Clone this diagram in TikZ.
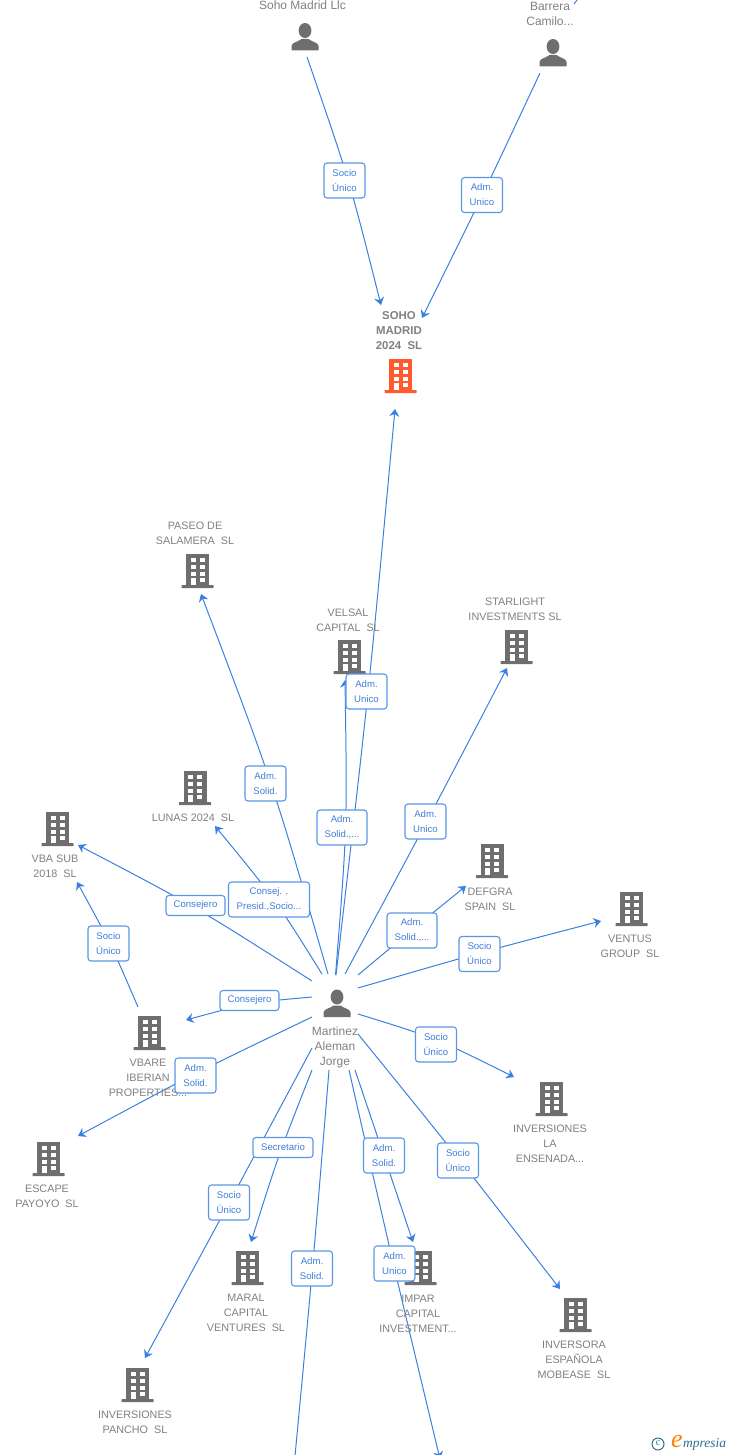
\documentclass[tikz,border=0pt]{standalone}
\usepackage{fontspec}
\setmainfont{Liberation Sans}
\newfontfamily\logofont{Liberation Serif}
\usetikzlibrary{arrows.meta,calc,backgrounds}
\definecolor{edgeblue}{HTML}{3B80E0}
\definecolor{boxblue}{HTML}{5A96E6}
\definecolor{txtblue}{HTML}{3F7FD8}
\definecolor{txtgray}{HTML}{808080}
\definecolor{icongray}{HTML}{6E6E6E}
\definecolor{iconorange}{HTML}{FF5B2E}
\definecolor{logoteal}{HTML}{2F6F8F}
\tikzset{
  edge/.style={draw=edgeblue,line width=1pt},
  tip/.style={edge,-{Stealth[length=7.5pt,width=10pt,inset=2.5pt]}},
  rel/.style={draw=boxblue,line width=1.1pt,rounded corners=3pt,fill=white,text=txtblue,
    font=\fontsize{9.6}{15}\selectfont,align=center,inner sep=0pt,minimum height=35pt,minimum width=41pt,yshift=-0.5pt},
  relw/.style={rel,minimum width=50pt},
  relx/.style={rel,minimum width=81pt},
  rels/.style={rel,minimum height=20pt,minimum width=59pt},
  lab/.style={text=txtgray,font=\fontsize{10.8}{15}\selectfont,align=center,inner sep=0pt,yshift=-1pt},
  lper/.style={lab,font=\fontsize{12}{15}\selectfont},
  lbold/.style={lab,font=\fontsize{11.4}{15}\selectfont\bfseries}
}
\newcommand\bld[3]{%
  \begin{scope}[shift={(#1)}]
    \fill[#2] (-11.5,-17) rectangle (11.5,14);
    \fill[#2,rounded corners=0.5pt] (-16,14) rectangle (16,17);
    \foreach \xa in {-7,2.4}{
      \fill[white] (\xa,-13.5) rectangle ++(5,4.6);
      \fill[white] (\xa,-6.2) rectangle ++(5,4.2);
      \fill[white] (\xa,0.9) rectangle ++(5,3.8);
      \fill[white] (\xa,7.2) rectangle ++(5,4.1);
    }
    \fill[white] (-7,11) rectangle ++(5,3.4);
    \coordinate (#3) at (0,0);
  \end{scope}}
\newcommand\pers[2]{%
  \begin{scope}[shift={(#1)}]
    \fill[icongray] (0,-6.5) ellipse (6.4 and 7.5);
    \fill[icongray] (-13.5,13.5) -- (-13.5,9) .. controls (-13.5,5.5) and (-7,5) .. (-3.5,2)
      -- (3.5,2) .. controls (7,5) and (13.5,5.5) .. (13.5,9) -- (13.5,13.5) -- cycle;
    \coordinate (#2) at (0,0);
  \end{scope}}
% \conn{style}{from}{through}{to}: curve from a to b through the given point
\newcommand\conn[4]{\draw[#1] (#2) .. controls ($1.3333*(#3)-0.16667*(#2)-0.16667*(#4)$) .. (#4);}
\begin{document}
\begin{tikzpicture}[x=1pt,y=-1pt]
\useasboundingbox (0,0) rectangle (728,1455);
\clip (0,0) rectangle (728,1455);

% icons
\pers{305,37}{pSoho}
\pers{553,53}{pBarrera}
\pers{337,1003.5}{pMartinez}
\bld{400.5,376}{iconorange}{bSoho}
\bld{197.5,571}{icongray}{bPaseo}
\bld{349.5,657}{icongray}{bVelsal}
\bld{516.5,647}{icongray}{bStar}
\bld{195,788}{icongray}{bLunas}
\bld{57.5,829}{icongray}{bVba}
\bld{492,861}{icongray}{bDefgra}
\bld{631.5,909}{icongray}{bVentus}
\bld{149.5,1033}{icongray}{bVbare}
\bld{551.5,1099}{icongray}{bEnsenada}
\bld{48.5,1159}{icongray}{bEscape}
\bld{247.5,1268}{icongray}{bMaral}
\bld{420.5,1268}{icongray}{bImpar}
\bld{575.5,1315}{icongray}{bInversora}
\bld{137.5,1385}{icongray}{bPancho}

% name labels
\node[lper] (tSoho) at (302.5,4) {Soho Madrid Llc};
\node[lper] (tBarrera) at (550,12.5) {Barrera\\Camilo...};
\node[lbold] (tSohoM) at (399,330) {SOHO\\MADRID\\2024\ \ SL};
\node[lab] (tPaseo) at (195,532.5) {PASEO DE\\SALAMERA\ \ SL};
\node[lab] (tVelsal) at (348,619.5) {VELSAL\\CAPITAL\ \ SL};
\node[lab] (tStar) at (515,608.5) {STARLIGHT\\INVESTMENTS SL};
\node[lab] (tLunas) at (193,817) {LUNAS 2024\ \ SL};
\node[lab] (tVba) at (55,865.5) {VBA SUB\\2018\ \ SL};
\node[lab] (tDefgra) at (490,898) {DEFGRA\\SPAIN\ \ SL};
\node[lab] (tVentus) at (630,945.5) {VENTUS\\GROUP\ \ SL};
\node[lper] (tMartinez) at (335,1046) {Martinez\\Aleman\\Jorge};
\node[lab] (tVbare) at (148,1077) {VBARE\\IBERIAN\\PROPERTIES...};
\node[lab] (tEnsenada) at (550,1143) {INVERSIONES\\LA\\ENSENADA...};
\node[lab] (tEscape) at (47,1195.5) {ESCAPE\\PAYOYO\ \ SL};
\node[lab] (tMaral) at (246,1312) {MARAL\\CAPITAL\\VENTURES\ \ SL};
\node[lab] (tImpar) at (418,1313) {IMPAR\\CAPITAL\\INVESTMENT...};
\node[lab] (tInversora) at (574,1359) {INVERSORA\\ESPAÑOLA\\MOBEASE\ \ SL};
\node[lab] (tPancho) at (135,1421.5) {INVERSIONES\\PANCHO\ \ SL};

% relation boxes
\node[rel]  (r1)  at (344.5,180) {Socio\\Único};
\node[rel]  (r2)  at (482,194.5) {Adm.\\Unico};
\node[rel]  (r3)  at (366.5,691) {Adm.\\Unico};
\node[relw] (r4)  at (342,827) {Adm.\\Solid.,...};
\node[rel]  (r5)  at (265.5,783) {Adm.\\Solid.};
\node[relx] (r6)  at (269,899) {Consej. ,\\Presid.,Socio...};
\node[rels] (r7)  at (195.5,905) {Consejero};
\node[rels] (r8)  at (249.5,1000) {Consejero};
\node[rel]  (r9)  at (195.5,1075) {Adm.\\Solid.};
\node[rel]  (r10) at (425.5,821) {Adm.\\Unico};
\node[relw] (r11) at (412,930) {Adm.\\Solid.,...};
\node[rel]  (r12) at (479.5,953.5) {Socio\\Único};
\node[rel]  (r13) at (436,1044) {Socio\\Único};
\node[rel]  (r14) at (458,1160) {Socio\\Único};
\node[rel]  (r15) at (229,1202) {Socio\\Único};
\node[rels,minimum width=60pt] (r16) at (283,1147) {Secretario};
\node[rel]  (r17) at (312,1268) {Adm.\\Solid.};
\node[rel]  (r18) at (384,1155) {Adm.\\Solid.};
\node[rel]  (r19) at (394.5,1263) {Adm.\\Unico};
\node[rel]  (r20) at (108.5,943) {Socio\\Único};

% connector ends
\coordinate (a1) at (307,57);    \coordinate (w1) at (348,180);   \coordinate (e1) at (381,305);
\coordinate (a2) at (540,73);    \coordinate (w2) at (482,196);   \coordinate (e2) at (422,318);
\coordinate (a3) at (336,975);   \coordinate (w3) at (368,692);   \coordinate (e3) at (395,409);
\coordinate (a4) at (335.5,975); \coordinate (w4) at (345.5,828); \coordinate (e4) at (345,680);
\coordinate (a5) at (328,974);   \coordinate (w5) at (271,784);   \coordinate (e5) at (201,594);
\coordinate (a6) at (322,974);   \coordinate (w6) at (274,900);   \coordinate (e6) at (215,826);
\coordinate (a7) at (312,981);   \coordinate (w7) at (195,908);   \coordinate (e7) at (78,845);
\coordinate (a8) at (312,997);   \coordinate (w8) at (250,1004);  \coordinate (e8) at (186,1020);
\coordinate (a9) at (312,1017);  \coordinate (w9) at (195,1074);  \coordinate (e9) at (78,1136);
\coordinate (a10) at (345,974);  \coordinate (w10) at (427,821);  \coordinate (e10) at (507,668);
\coordinate (a11) at (358,975);  \coordinate (w11) at (412,930);  \coordinate (e11) at (466,886);
\coordinate (a12) at (358,988);  \coordinate (w12) at (480,953);  \coordinate (e12) at (601,921);
\coordinate (a13) at (358,1014); \coordinate (w13) at (436,1040); \coordinate (e13) at (514,1077);
\coordinate (a14) at (358,1034); \coordinate (w14) at (458,1158); \coordinate (e14) at (560,1289);
\coordinate (a15) at (312,1048); \coordinate (w15) at (229,1203); \coordinate (e15) at (145,1358);
\coordinate (a16) at (312,1070); \coordinate (w16) at (279,1156); \coordinate (e16) at (251,1242);
\coordinate (a17) at (329,1070); \coordinate (w17) at (313,1262); \coordinate (e17) at (295,1456);
\coordinate (a18) at (355,1070); \coordinate (w18) at (384,1156); \coordinate (e18) at (413,1242);
\coordinate (a19) at (349,1070); \coordinate (w19) at (393,1262); \coordinate (e19) at (440,1459);
\coordinate (a20) at (138,1007); \coordinate (w20) at (110,944);  \coordinate (e20) at (77,882);
\coordinate (a21) at (574,4);    \coordinate (e21) at (577,0);

\begin{scope}[on background layer]
\conn{tip}{a1}{w1}{e1}
\conn{tip}{a2}{w2}{e2}
\conn{tip}{a3}{w3}{e3}
\conn{tip}{a4}{w4}{e4}
\conn{tip}{a5}{w5}{e5}
\conn{tip}{a6}{w6}{e6}
\conn{tip}{a7}{w7}{e7}
\conn{tip}{a8}{w8}{e8}
\conn{tip}{a9}{w9}{e9}
\conn{tip}{a10}{w10}{e10}
\conn{tip}{a11}{w11}{e11}
\conn{tip}{a12}{w12}{e12}
\conn{tip}{a13}{w13}{e13}
\conn{tip}{a14}{w14}{e14}
\conn{tip}{a15}{w15}{e15}
\conn{tip}{a16}{w16}{e16}
\conn{edge}{a17}{w17}{e17}
\conn{tip}{a18}{w18}{e18}
\conn{tip}{a19}{w19}{e19}
\conn{tip}{a20}{w20}{e20}
\draw[edge] (a21) -- (e21);
\end{scope}

% logo
\draw[draw=logoteal,line width=1pt] (658,1444) circle (6);
\node[inner sep=0pt,text=logoteal,font=\logofont\fontsize{10}{10}\selectfont] (logoc) at (658,1443.5) {c};
\node[inner sep=0pt,text=orange,font=\logofont\itshape\fontsize{26}{26}\selectfont] (logoe) at (677,1441) {e};
\node[inner sep=0pt,anchor=west,text=logoteal,font=\logofont\itshape\fontsize{13.5}{14}\selectfont] (logot) at (683,1444) {mpresia};
\end{tikzpicture}
\end{document}
